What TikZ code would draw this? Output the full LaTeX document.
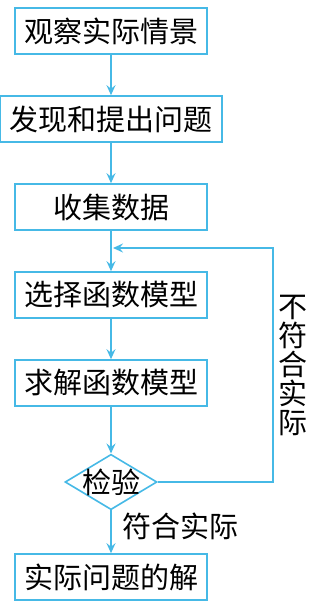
\documentclass[tikz,border=0pt]{standalone}
\usepackage{fontspec}
\newfontfamily\cjk{Noto Sans CJK SC}
\usetikzlibrary{arrows.meta,positioning,shapes.geometric}
\definecolor{lineblue}{RGB}{70,185,230}
\begin{document}
\begin{tikzpicture}[
  x=1pt, y=-1pt,
  box/.style={draw=lineblue, line width=1.6pt, rectangle, minimum width=192pt, minimum height=46pt, font=\cjk\fontsize{29}{29}\selectfont},
  test/.style={draw=lineblue, line width=1.6pt, diamond, aspect=1.66, inner sep=-2pt, font=\cjk\fontsize{29}{29}\selectfont},
  label/.style={font=\cjk\fontsize{29}{29}\selectfont, inner sep=0pt},
  arrow/.style={-{Stealth[length=10pt,width=9pt,inset=3.5pt]}, draw=lineblue, line width=1.6pt}
]
  \useasboundingbox (0,0) rectangle (309,601);
  % Boxes
  \node[box] (obs) at (111, 31) {观察实际情景};
  \node[box, minimum width=222pt] (find) at (111, 119) {发现和提出问题};
  \node[box] (data) at (111, 207) {收集数据};
  \node[box] (choose) at (111, 295) {选择函数模型};
  \node[box] (solve) at (111, 383) {求解函数模型};
  \node[test] (check) at (111, 482) {检验};
  \node[box] (answer) at (111, 577) {实际问题的解};

  % Labels
  \node[label, align=center] (no) at (293, 365) {不\\符\\合\\实\\际};
  \node[label, anchor=west] (yes) at (122, 526) {符合实际};

  % Arrows
  \draw[arrow] (obs) -- (find);
  \draw[arrow] (find) -- (data);
  \draw[arrow] (data) -- (choose);
  \draw[arrow] (choose) -- (solve);
  \draw[arrow] (solve) -- (check);
  \draw[arrow] (check) -- (answer);

  % Feedback loop
  \coordinate (turn) at (273, 248);
  \coordinate (join) at (113, 248);
  \draw[arrow] (check.east) -| (turn) -- (join);
\end{tikzpicture}
\end{document}
